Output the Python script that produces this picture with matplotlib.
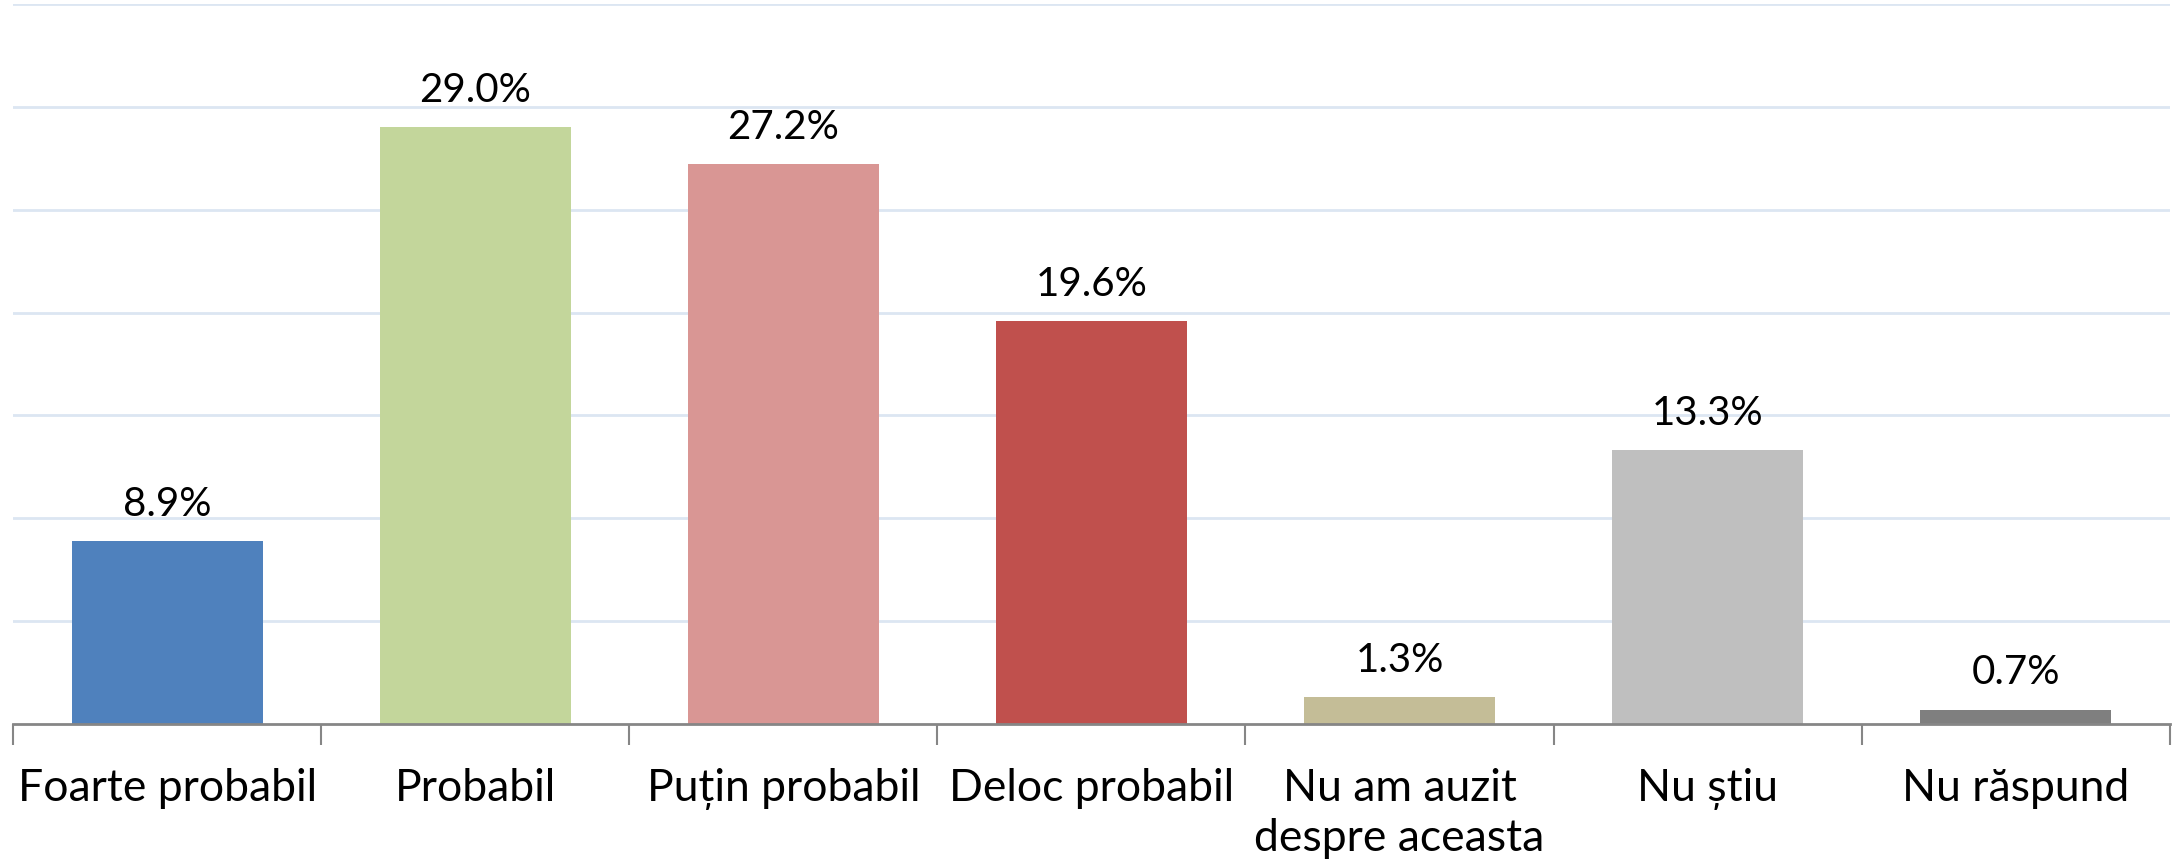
import numpy as np
import matplotlib.pyplot as plt

categories = ['Foarte probabil', 'Probabil', 'Puțin probabil', 'Deloc probabil',
              'Nu am auzit\ndespre aceasta', 'Nu știu', 'Nu răspund']
values = [8.9, 29.0, 27.2, 19.6, 1.3, 13.3, 0.7]
colors = ['#4F81BD', '#C3D69B', '#D99694', '#C0504D', '#C4BD97', '#BFBFBF', '#7F7F7F']

plt.rcParams['font.family'] = ['Lato', 'DejaVu Sans']

fig = plt.figure(figsize=(21.72, 8.68), dpi=100)
ax = fig.add_axes([0.006, 0.166, 0.993, 0.8294])

x = np.arange(len(categories))
ax.bar(x, values, width=0.62, color=colors, zorder=3)

for xi, v in zip(x, values):
    ax.annotate(f'{v:.1f}%', (xi, v), xytext=(0, 13), textcoords='offset points',
                ha='center', va='bottom', fontsize=29)

ax.set_xlim(-0.5, len(categories) - 0.5)
ax.set_ylim(0, 35)
ax.set_yticks(np.arange(5, 36, 5))
ax.yaxis.grid(True, color='#DCE6F2', linewidth=2, zorder=0)
ax.tick_params(axis='y', left=False, labelleft=False)

ax.set_xticks(x)
ax.set_xticklabels(categories, fontsize=32, linespacing=1.25)
ax.tick_params(axis='x', which='major', length=0, pad=32)
ax.set_xticks(np.arange(-0.5, len(categories), 1), minor=True)
ax.tick_params(axis='x', which='minor', length=15, width=1.5, color='#868686')

for s in ['top', 'right', 'left']:
    ax.spines[s].set_visible(False)
ax.spines['bottom'].set_color('#868686')
ax.spines['bottom'].set_linewidth(2)
ax.spines['bottom'].set_zorder(4)

fig.savefig('out.png', dpi=100)
